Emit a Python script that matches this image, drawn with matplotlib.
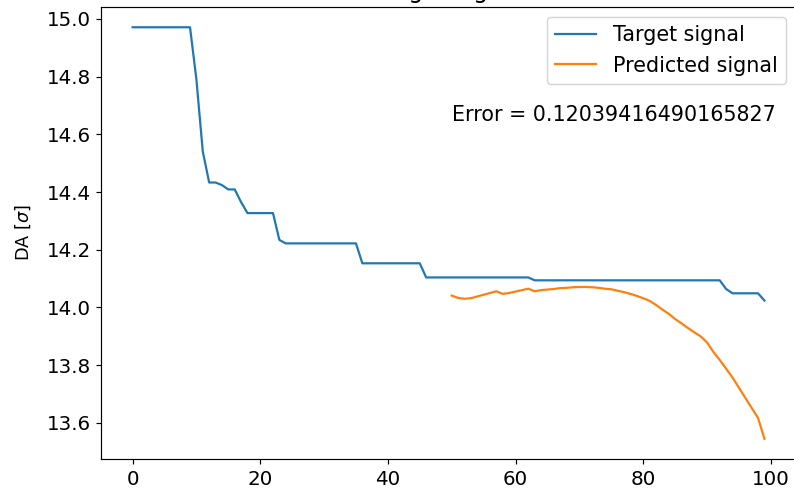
import matplotlib.pyplot as plt
import numpy as np

# target signal, one value per step 0..99
target_x = np.arange(0, 100)
target_y = [
    14.971, 14.971, 14.971, 14.971, 14.971, 14.971, 14.971, 14.971, 14.971, 14.971,
    14.790, 14.540, 14.433, 14.433, 14.424, 14.409, 14.409, 14.365, 14.327, 14.327,
    14.327, 14.327, 14.327, 14.234, 14.222, 14.222, 14.222, 14.222, 14.222, 14.222,
    14.222, 14.222, 14.222, 14.222, 14.222, 14.222, 14.153, 14.153, 14.153, 14.153,
    14.153, 14.153, 14.153, 14.153, 14.153, 14.153, 14.104, 14.104, 14.104, 14.104,
    14.104, 14.104, 14.104, 14.104, 14.104, 14.104, 14.104, 14.104, 14.104, 14.104,
    14.104, 14.104, 14.104, 14.094, 14.094, 14.094, 14.094, 14.094, 14.094, 14.094,
    14.094, 14.094, 14.094, 14.094, 14.094, 14.094, 14.094, 14.094, 14.094, 14.094,
    14.094, 14.094, 14.094, 14.094, 14.094, 14.094, 14.094, 14.094, 14.094, 14.094,
    14.094, 14.094, 14.094, 14.064, 14.049, 14.049, 14.049, 14.049, 14.049, 14.024,
]

# predicted signal, steps 50..99
pred_x = np.arange(50, 100)
pred_y = [
    14.041, 14.033, 14.030, 14.032, 14.038, 14.044, 14.050, 14.056, 14.047, 14.050,
    14.055, 14.060, 14.065, 14.056, 14.060, 14.062, 14.064, 14.067, 14.068, 14.070,
    14.071, 14.071, 14.070, 14.068, 14.065, 14.063, 14.058, 14.053, 14.047, 14.040,
    14.032, 14.023, 14.009, 13.993, 13.978, 13.960, 13.945, 13.929, 13.914, 13.900,
    13.879, 13.846, 13.818, 13.788, 13.757, 13.722, 13.687, 13.652, 13.617, 13.545,
]

error = 0.12039416490165827


def main():
    dpi = 106
    fig = plt.figure(figsize=(794 / dpi, 493 / dpi), dpi=dpi)
    # the reference is a crop: title sits above the top edge
    ax = fig.add_axes([101 / 794, 1 - 459.3 / 493, 695 / 794, 452.6 / 493])

    ax.plot(target_x, target_y, label="Target signal")
    ax.plot(pred_x, pred_y, label="Predicted signal")

    ax.set_title("Target signal", fontsize=16)
    ax.set_ylabel(r"DA [$\sigma$]", fontsize=12, labelpad=9)
    ax.tick_params(labelsize=13.5)
    ax.text(50, 14.645, f"Error = {error}", fontsize=14)
    ax.legend(loc="upper right", fontsize=14)

    fig.savefig("out.png", dpi=dpi)


if __name__ == "__main__":
    main()
